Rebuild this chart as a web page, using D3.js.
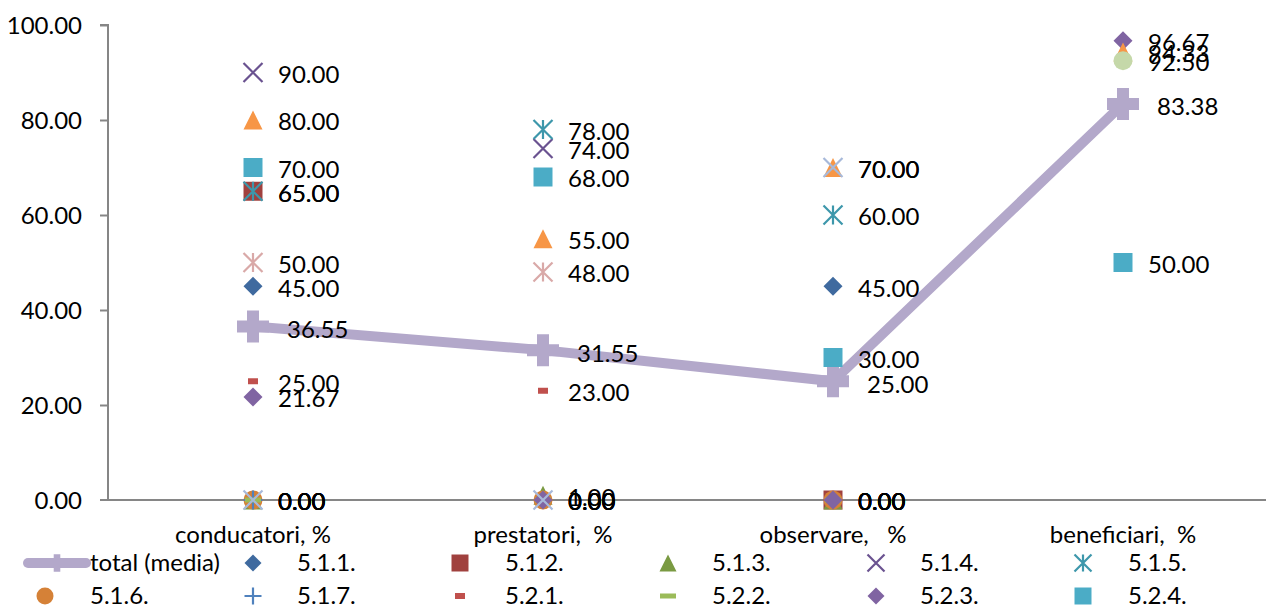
<!DOCTYPE html>
<html>
<head>
<meta charset="utf-8">
<script src="https://cdn.jsdelivr.net/npm/d3@7"></script>
<style>
  body { margin: 0; background: #fff; }
  text { font-family: Lato, "Liberation Sans", sans-serif; fill: #000; white-space: pre; }
</style>
</head>
<body>
<svg id="chart"></svg>
<script>
// data
var categories = ["conducatori, %", "prestatori,  %", "observare,   %", "beneficiari,  %"];
var yTicks = [0, 20, 40, 60, 80, 100];
var total = [36.55, 31.55, 25.00, 83.38];
var s511 = [45, null, 45, null];
var s512 = [65, null, 0, null];
var s513 = [0, 1, 0, null];
var s514 = [90, 74, null, null];
var s515 = [65, 78, 60, null];
var s516 = [0, 0, 0, null];
var s517 = [0, null, null, null];
var s521 = [25, 23, 0, null];
var s522 = [0, 0, 0, null];
var s523 = [21.67, 0, 0, 96.67];
var s524 = [70, 68, 30, 50];
var s525 = [80, 55, 70, 94.33];
var s526 = [0, 0, 70, null];
var s527 = [50, 48, null, null];
var s528 = [null, null, null, 92.5];

var seriesNames = ["5.1.1.", "5.1.2.", "5.1.3.", "5.1.4.", "5.1.5.", "5.1.6.", "5.1.7.",
                   "5.2.1.", "5.2.2.", "5.2.3.", "5.2.4.", "5.2.5.", "5.2.6.", "5.2.7.", "5.2.8."];
var seriesValues = [s511, s512, s513, s514, s515, s516, s517, s521, s522, s523, s524, s525, s526, s527, s528];
var markers = ["diamond", "square", "triangle", "x", "star", "circle", "plus", "dash", "longdash",
               "diamond", "square", "triangle", "x", "star", "circle"];
var colors = ["#3F6A9F", "#A0413E", "#7A9A42", "#6A5290", "#3D97AB", "#D58137", "#4F81BD",
              "#C0504D", "#9BBB59", "#8064A2", "#4BACC6", "#F79646", "#A7B9DA", "#D9A9A8", "#C5D8A9"];
var totalColor = "#B3A8CA";

var width = 1272, height = 605;
var fs = "24px";
var svg = d3.select("#chart").attr("width", width).attr("height", height);

var x = d3.scaleBand().domain(categories).range([108, 1268]);
var y = d3.scaleLinear().domain([0, 100]).range([500, 25]);
var cx = function(i) { return x(categories[i]) + x.bandwidth() / 2; };

// axes
var yAxis = svg.append("g").attr("transform", "translate(108,0)")
    .call(d3.axisLeft(y).tickValues(yTicks).tickSize(8).tickFormat(d3.format(".2f")));
yAxis.select(".domain").attr("stroke", "#868686").attr("stroke-width", 2).attr("d", "M-8,25H0V500");
yAxis.selectAll(".tick line").attr("stroke", "#868686").attr("stroke-width", 2);
yAxis.selectAll(".tick text").attr("x", -26).attr("dy", "0.35em")
    .style("font-size", fs).style("font-family", "Lato, sans-serif").attr("fill", "#000");
yAxis.selectAll(".tick").filter(function(d) { return d === 0; }).select("line").remove();

svg.append("line").attr("x1", 100).attr("x2", 1266).attr("y1", y(0)).attr("y2", y(0))
    .attr("stroke", "#868686").attr("stroke-width", 2);

svg.selectAll(".cat").data(categories).enter().append("text")
    .attr("x", function(d, i) { return cx(i); })
    .attr("y", 543)
    .attr("text-anchor", "middle")
    .style("font-size", fs)
    .text(function(d) { return d; });

// marker shapes
function markerPath(type, s) {
  var h = s / 2;
  switch (type) {
    case "diamond": return "M0," + (-h) + "L" + h + ",0L0," + h + "L" + (-h) + ",0Z";
    case "square": return "M" + (-h) + "," + (-h) + "h" + s + "v" + s + "h" + (-s) + "Z";
    case "triangle": return "M0," + (-h) + "L" + h + "," + h + "L" + (-h) + "," + h + "Z";
    case "circle": return d3.symbol(d3.symbolCircle, Math.PI * h * h)();
    case "x": return "M" + (-h) + "," + (-h) + "L" + h + "," + h + "M" + h + "," + (-h) + "L" + (-h) + "," + h;
    case "star": return "M" + (-h) + "," + (-h) + "L" + h + "," + h + "M" + h + "," + (-h) + "L" + (-h) + "," + h + "M0," + (-h) + "V" + h;
    case "plus": return "M" + (-h) + ",0H" + h + "M0," + (-h) + "V" + h;
    case "dash": return "M-5,-3h10v6h-10Z";
    case "longdash": return "M-8,-2.5h16v5h-16Z";
  }
}
var stroked = { x: true, star: true, plus: true };

function drawMarker(g, type, color, size) {
  var p = g.append("path").attr("d", markerPath(type, size));
  if (stroked[type]) p.attr("fill", "none").attr("stroke", color).attr("stroke-width", 2.2);
  else p.attr("fill", color);
  return p;
}

var plusBig = "M-6,-16H6V-6H16V6H6V16H-6V6H-16V-6H-6Z";

// total line
var line = d3.line().x(function(d, i) { return cx(i); }).y(function(d) { return y(d); });
svg.append("path").datum(total).attr("d", line)
    .attr("fill", "none").attr("stroke", totalColor).attr("stroke-width", 10)
    .attr("stroke-linejoin", "round");
total.forEach(function(v, i) {
  svg.append("path").attr("d", plusBig)
      .attr("transform", "translate(" + cx(i) + "," + y(v) + ")")
      .attr("fill", totalColor);
});

// series markers
seriesValues.forEach(function(vals, k) {
  vals.forEach(function(v, i) {
    if (v === null) return;
    var g = svg.append("g").attr("transform", "translate(" + cx(i) + "," + y(v) + ")");
    drawMarker(g, markers[k], colors[k], 19);
  });
});

// labels
var fmt = d3.format(".2f");
total.forEach(function(v, i) {
  svg.append("text").attr("x", cx(i) + 34).attr("y", y(v) + 3).attr("dy", "0.35em")
      .style("font-size", fs).text(fmt(v));
});
seriesValues.forEach(function(vals) {
  vals.forEach(function(v, i) {
    if (v === null) return;
    svg.append("text").attr("x", cx(i) + 25).attr("y", y(v) + 2).attr("dy", "0.35em")
        .style("font-size", fs).text(fmt(v));
  });
});

// legend (first 12 entries shown)
var legendItems = [{ name: "total (media)", total: true }];
for (var k = 0; k < 11; k++) legendItems.push({ name: seriesNames[k], k: k });
var colMarker = [57, 253, 460, 668, 876, 1083];
var colText = [90, 297, 505, 712, 920, 1128];
var rowY = [563, 596];
legendItems.forEach(function(d, j) {
  var row = Math.floor(j / 6), col = j % 6;
  var ly = rowY[row];
  if (d.total) {
    svg.append("line").attr("x1", 28).attr("x2", 86).attr("y1", ly).attr("y2", ly)
        .attr("stroke", totalColor).attr("stroke-width", 10).attr("stroke-linecap", "round");
    svg.append("path").attr("d", plusBig)
        .attr("transform", "translate(" + colMarker[0] + "," + ly + ") scale(0.55)")
        .attr("fill", totalColor);
  } else {
    var mx = col === 0 ? 45 : colMarker[col];
    var g = svg.append("g").attr("transform", "translate(" + mx + "," + ly + ")");
    drawMarker(g, markers[d.k], colors[d.k], 17);
  }
  svg.append("text").attr("x", colText[col]).attr("y", ly).attr("dy", "0.35em")
      .style("font-size", fs).text(d.name);
});
</script>
</body>
</html>
